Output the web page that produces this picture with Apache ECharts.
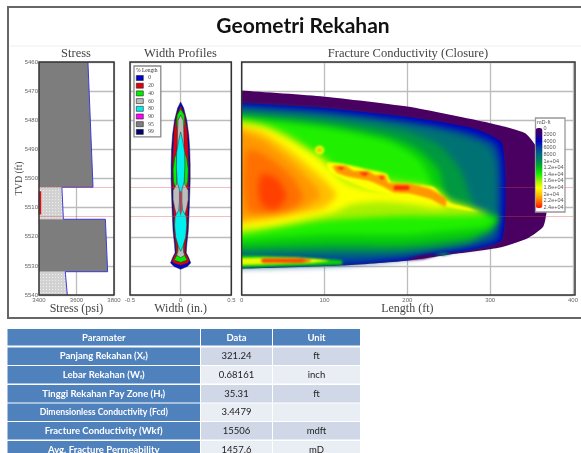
<!DOCTYPE html>
<html>
<head>
<meta charset="utf-8">
<title>Geometri Rekahan</title>
<script src="https://cdn.jsdelivr.net/npm/echarts@6/dist/echarts.min.js"></script>
<style>
  html, body { margin: 0; background: #fff; }
  #chart { width: 581px; height: 453px; filter: blur(0.45px); }
</style>
</head>
<body>
<div id="chart"></div>
<script>
// stress panel, one entry per zone
const zoneTop = [5460, 5503, 5514, 5532]
const zoneBottom = [5503, 5514, 5532, 5540]
const stressTop = [3661, 3522, 3754, 3540]
const stressBottom = [3688, 3530, 3766, 3551]
const zoneIsShale = [true, false, true, false]
const perfDepths = [5503, 5513]
const perfBarDepths = [5504.4, 5512.4]
const perfBarStress = 3405

// width profiles, [depth, half width in inches]
const widthNames = ['0', '20', '40', '60', '80', '90', '95', '99']
const widthColors = ['#0000d0', '#e00010', '#00f000', '#bdbdbd', '#00f0f0', '#ff00ff', '#808080', '#000070']
const width0 = [[5473.7, 0], [5475.8, .03], [5479.9, .06], [5485, .08], [5490.2, .09], [5495.3, .094], [5500.5, .094], [5507.3, .088], [5512.8, .082], [5518, .075], [5522.8, .06], [5525.5, .055], [5527.2, .08], [5529, .1], [5530.2, .065], [5531.2, 0]]
const width20 = [[5475.1, 0], [5478.2, .04], [5483.3, .065], [5490.2, .075], [5495.3, .08], [5500.5, .08], [5507.3, .075], [5512.8, .07], [5518, .065], [5522.8, .05], [5525.5, .045], [5527, .07], [5528.3, .085], [5529, .07], [5529.8, 0]]
const width40 = [[5476.1, 0], [5478.2, .035], [5481, .04], [5484, .03], [5490, .03], [5493, .06], [5497, .075], [5501, .07], [5504, .045], [5510, .03], [5524.5, .03], [5526.5, .04], [5528, .065], [5528.8, 0]]
const width60 = [[5478.2, 0], [5480, .025], [5483.3, .03], [5490.2, .035], [5502, .04], [5504.1, .075], [5507.3, .075], [5510, .06], [5513.5, .035], [5518, .03], [5524.5, .025], [5525.5, .03], [5526.3, .04], [5527.2, 0]]
const width80 = [[5484, 0], [5487, .02], [5491, .04], [5496, .042], [5501, .035], [5504, .012], [5508, .012], [5511, .02], [5513, .055], [5516, .06], [5520, .05], [5523, .025], [5525, 0]]
const width90 = []
const width95 = []
const width99 = []
const widthProfiles = [width0, width20, width40, width60, width80, width90, width95, width99]
// thin red strip in the middle of the pay zone
const widthCore = [[5504, 0], [5505, .012], [5511, .012], [5513, 0]]

// conductivity contours, [length ft, depth ft], painted outside to inside
// the points left of zero only keep the curve smoothing away from the plot edge
const outerEdge = [[-80, 5468], [0, 5469.8], [100, 5471.9], [200, 5475.3], [300, 5481], [342, 5484.4], [358, 5490.2], [367, 5498.8], [369, 5507.3], [368, 5511.8], [364, 5516.6], [346, 5520.4], [310, 5523.8], [250, 5526.2], [200, 5528.2], [121, 5529.9], [0, 5531], [-80, 5531.6]]
const blueEdge = [[-80, 5472.9], [0, 5474.1], [100, 5475.8], [200, 5478.9], [277, 5482.6], [313, 5487.4], [318, 5497], [318, 5513.2], [313, 5521.4], [277, 5524.5], [234, 5526.2], [202, 5527.9], [121, 5529.6], [0, 5530.7], [-80, 5531.2]]
const navyEdge = [[-60, 5473.5], [-12, 5474.6], [100, 5476.8], [199, 5480.2], [268, 5483.7], [306, 5487.8], [313, 5493.6], [314, 5507.3], [313, 5512.8], [309, 5521.1], [274, 5523.8], [238, 5525.2], [199, 5527.4], [121, 5529.5], [-12, 5530.6], [-60, 5531]]
const tealEdge = [[-60, 5474.6], [-12, 5475.7], [100, 5477.8], [199, 5481.3], [262, 5485], [298, 5489.2], [307, 5495.3], [308, 5512.8], [304, 5518.3], [274, 5523], [199, 5525.8], [121, 5526.3], [-12, 5526.8], [-60, 5527]]
const seaEdge = [[-60, 5476], [-12, 5477.1], [100, 5479.6], [190, 5483.3], [238, 5488.5], [264, 5497], [274, 5504.6], [283, 5510.1], [306, 5512.8], [300, 5516.3], [274, 5522], [199, 5524.6], [121, 5525], [-12, 5525.3], [-60, 5525.5]]
const greenEdge = [[-60, 5477], [-12, 5478.1], [100, 5481.3], [178, 5485.7], [214, 5490.2], [238, 5497], [244, 5503.9], [252, 5508.7], [274, 5511.5], [310, 5512.8], [310, 5514.9], [298, 5518.3], [274, 5520.4], [199, 5522.8], [98, 5522.8], [-12, 5523.8], [-60, 5524.2]]
const limeEdge = [[-60, 5477.7], [-12, 5478.8], [100, 5482.6], [178, 5487.4], [214, 5493.6], [228, 5500.5], [228, 5504.6], [244, 5509], [274, 5511.8], [304, 5513.5], [298, 5516.3], [238, 5518.3], [199, 5519.3], [98, 5519.3], [-12, 5521.4], [-60, 5522.3]]
const paleEdge = [[-60, 5478], [-12, 5479.5], [24, 5481.3], [52, 5484.4], [81, 5489.5], [100, 5492.9], [115, 5496.4], [130, 5497.7], [160, 5498.4], [180, 5500.5], [214, 5501.8], [238, 5503.9], [252, 5507.3], [274, 5509.4], [298, 5512.1], [238, 5512.9], [199, 5512.8], [98, 5514.5], [-12, 5519.7], [-60, 5521.5]]
const yellowEdge = [[-60, 5479], [-12, 5480.7], [28, 5482.6], [58, 5486.8], [88, 5491.9], [106, 5496.4], [124, 5501.2], [154, 5503.9], [202, 5504.6], [229, 5506], [247, 5509], [238, 5510.1], [202, 5508.7], [166, 5508], [132, 5509], [112, 5511.5], [94, 5512.8], [38, 5516.3], [-12, 5517.6], [-60, 5519]]
const amberEdge = [[-60, 5479.5], [-12, 5481.5], [24, 5484], [52, 5489], [78, 5495], [100, 5500.5], [114, 5505.6], [100, 5510], [70, 5512.2], [38, 5514], [-12, 5516], [-60, 5517.5]]
const orangeEdge = [[-60, 5481], [-12, 5483], [24, 5486.5], [46, 5491], [70, 5497], [95, 5505.6], [75, 5510.2], [40, 5512.2], [-12, 5514.2], [-60, 5515.5]]
const deepEdge = [[8, 5490], [36, 5493.5], [62, 5500], [74, 5506.6], [58, 5511], [32, 5512.3], [8, 5511], [2, 5500]]
const coreEdge = [[24, 5498.5], [42, 5500], [54, 5506], [42, 5510.5], [26, 5509.5], [20, 5504.6]]
const streakYellow = [[103, 5494.6], [124, 5495], [154, 5497], [175, 5498.4], [180, 5501.2], [204, 5501.8], [232, 5502.9], [240, 5505.3], [252, 5508.4], [274, 5510.1], [286, 5511.5], [274, 5511.1], [247, 5509.7], [226, 5507.3], [190, 5506], [154, 5503.9], [124, 5500.5], [106, 5497.7]]
const streakOrange = [[110, 5495.7], [126, 5495.7], [135, 5497.4], [153, 5497.4], [161, 5498.8], [173, 5498.8], [177, 5501.5], [202, 5501.8], [228, 5503.6], [247, 5507], [246, 5509.5], [228, 5507], [204, 5505.2], [184, 5504.8], [172, 5503], [154, 5500.8], [130, 5499.5], [115, 5498]]
const streakRed1 = [[115, 5496], [124, 5496.2], [120, 5497.1]]
const streakRed2 = [[142, 5497.9], [153, 5498.1], [149, 5499.1]]
const streakRed3 = [[166, 5499.1], [172, 5499.6], [169, 5500.5]]
const streakRed4 = [[184, 5502.5], [202, 5502.5], [202, 5503.9], [184, 5503.9]]
const spotYellow = [[88, 5490.2], [91, 5488.8], [97, 5488.8], [100, 5490.2], [97, 5491.7], [91, 5491.7]]
const spotOrange = [[91, 5490.2], [94, 5489.5], [97, 5490.2], [94, 5490.9]]
const lensGreen = [[-60, 5526.5], [24, 5526.5], [70, 5527.1], [121, 5528.1], [121, 5529.5], [70, 5530], [-60, 5530.6]]
const lensYellow = [[-60, 5527.9], [24, 5527.2], [70, 5527.2], [106, 5528.2], [82, 5529], [24, 5529.5], [-60, 5529.8]]
const lensRed = [[26, 5527.5], [70, 5527.5], [84, 5528.2], [70, 5528.9], [26, 5528.9], [23, 5528.2]]
const patchPurple = [[198, 5527.9], [214, 5526.5], [229, 5525.9], [234, 5526.5], [220, 5527.6]]
const patchTeal = [[234, 5525.9], [244, 5525.5], [252, 5525.9], [244, 5526.4]]

const baseShapes = [outerEdge, blueEdge]
const baseLevels = [0, 4000]
const softShapes = [navyEdge, tealEdge, seaEdge, greenEdge, limeEdge, paleEdge, yellowEdge, amberEdge, orangeEdge, deepEdge, coreEdge]
const softLevels = [6500, 8500, 10500, 12500, 14000, 16000, 18000, 20000, 21000, 22000, 23000]
const detailShapes = [streakYellow, streakOrange, streakRed1, streakRed2, streakRed3, streakRed4, spotYellow, spotOrange, lensGreen, lensYellow, lensRed, patchPurple, patchTeal]
const detailLevels = [18000, 21000, 23500, 23500, 23500, 23500, 17500, 20500, 12500, 17500, 23000, 0, 9000]

const scaleColors = ['#4a0060', '#30007a', '#0000c0', '#00409a', '#006a80', '#008a50', '#00c010', '#20f000', '#a8f000', '#ffff00', '#ffc000', '#ff7000', '#ff1000']
const scaleLabels = ['0', '2000', '4000', '6000', '8000', '1e+04', '1.2e+04', '1.4e+04', '1.6e+04', '1.8e+04', '2e+04', '2.2e+04', '2.4e+04']

// table under the plots
const tableHeaders = ['Paramater', 'Data', 'Unit']
const paramNames = ['{b|Panjang Rekahan (X}{s|f}{b|)}', '{b|Lebar Rekahan (W}{s|f}{b|)}', '{b|Tinggi Rekahan Pay Zone (H}{s|f}{b|)}', '{c|Dimensionless Conductivity (Fcd)}', '{b|Fracture Conductivity (Wkf)}', '{b|Avg. Fracture Permeability}']
const paramData = ['321.24', '0.68161', '35.31', '3.4479', '15506', '1457.6']
const paramUnits = ['ft', 'inch', 'ft', '', 'mdft', 'mD']

const serif = '"Liberation Serif", serif'
const sans = '"Liberation Sans", sans-serif'
const tableFont = 'Lato, sans-serif'

const grids = [
  { left: 39, top: 62, width: 75, height: 233 },
  { left: 130, top: 62, width: 101.3, height: 233 },
  { left: 241.7, top: 62, width: 333.3, height: 233 }
]

// fine dots of the sand zones
const sandPattern = document.createElement('canvas')
sandPattern.width = 3
sandPattern.height = 3
const sandCtx = sandPattern.getContext('2d')
sandCtx.fillStyle = '#d2d2d2'
sandCtx.fillRect(0, 0, 3, 3)
sandCtx.fillStyle = '#ececec'
sandCtx.fillRect(1, 1, 1, 1)

const axisLabel = { fontSize: 6, color: '#666', fontFamily: sans, margin: 2, formatter: v => String(v) }
const splitLine = { show: true, lineStyle: { color: '#bcbcbc', width: 1.3 } }

const xAxisOf = (gridIndex, min, max, interval, name) => ({
  type: 'value', gridIndex, min, max, interval, name,
  nameLocation: 'middle', nameGap: 8, nameMoveOverlap: false,
  nameTextStyle: { fontFamily: serif, fontSize: 12, color: '#444' },
  axisLine: { show: false }, axisTick: { show: false },
  axisLabel, splitLine
})
const yAxisOf = (gridIndex, extra) => ({
  type: 'value', gridIndex, min: 5460, max: 5540, interval: 10, inverse: true,
  axisLine: { show: false }, axisTick: { show: false },
  axisLabel: { show: false }, splitLine, ...extra
})

const pinkLines = (gridIndex, z, zlevel) => ({
  type: 'line', xAxisIndex: gridIndex, yAxisIndex: gridIndex, data: [], z, zlevel,
  markLine: {
    silent: true, symbol: 'none', label: { show: false },
    lineStyle: { color: 'rgba(225,70,70,0.35)', width: 1, type: 'solid' },
    data: perfDepths.map(d => ({ yAxis: d }))
  }
})

const widthPoints = profile => profile.map(p => [p[1], p[0]])
  .concat(profile.slice().reverse().map(p => [-p[1], p[0]]))

const series = []

series.push(pinkLines(0, 1, 0))
series.push({
  type: 'custom', xAxisIndex: 0, yAxisIndex: 0, clip: true,
  data: zoneTop.map((d, i) => [i]),
  renderItem: (params, api) => {
    const i = api.value(0)
    const pts = [[3400, zoneTop[i]], [stressTop[i], zoneTop[i]], [stressBottom[i], zoneBottom[i]], [3400, zoneBottom[i]]]
    return {
      type: 'polygon',
      shape: { points: pts.map(p => api.coord(p)) },
      style: { fill: zoneIsShale[i] ? '#7d7d7d' : { image: sandPattern, repeat: 'repeat' } }
    }
  }
})
series.push({
  type: 'line', xAxisIndex: 0, yAxisIndex: 0, showSymbol: false, z: 3,
  lineStyle: { color: '#3c3cd8', width: 1 },
  data: zoneTop.flatMap((d, i) => [[stressTop[i], zoneTop[i]], [stressBottom[i], zoneBottom[i]]])
})
series.push({
  type: 'line', xAxisIndex: 0, yAxisIndex: 0, showSymbol: false, z: 3,
  lineStyle: { color: '#e01010', width: 2.5 },
  data: perfBarDepths.map(d => [perfBarStress, d])
})

series.push(pinkLines(1, 1, 0))
widthProfiles.forEach((profile, k) => {
  series.push({
    type: 'custom', name: widthNames[k], xAxisIndex: 1, yAxisIndex: 1,
    itemStyle: { color: widthColors[k] },
    data: profile.length ? [[0, 0]] : [],
    renderItem: (params, api) => ({
      type: 'polygon',
      shape: { points: widthPoints(profile).map(p => api.coord(p)) },
      style: { fill: widthColors[k], stroke: '#2a2a2a', lineWidth: 0.5 }
    })
  })
})
series.push({
  type: 'custom', xAxisIndex: 1, yAxisIndex: 1,
  data: [[0, 0]],
  renderItem: (params, api) => ({
    type: 'polygon',
    shape: { points: widthPoints(widthCore).map(p => api.coord(p)) },
    style: { fill: '#b04050' }
  })
})

// conductivity goes on three canvas layers, so the middle one can be softened
const contourSeries = (shapes, levels, zlevel, clip, smooth) => ({
  type: 'custom', xAxisIndex: 2, yAxisIndex: 2, clip, zlevel,
  data: levels.map((v, i) => [v, i]),
  renderItem: (params, api) => ({
    type: 'polygon',
    shape: { points: shapes[api.value(1)].map(p => api.coord(p)), smooth },
    style: { fill: api.visual('color') }
  })
})
const contourIndex = series.length
series.push(contourSeries(baseShapes, baseLevels, 0, true, 0.2))
series.push(contourSeries(softShapes, softLevels, 1, false, 0.25))
series.push(contourSeries(detailShapes, detailLevels, 2, false, 0.15))
series.push(pinkLines(2, 3, 3))

const graphic = [
  { type: 'rect', z: -1, shape: { x: 8, y: 7, width: 590, height: 311 }, style: { fill: '#fff', stroke: '#666', lineWidth: 2 } },
  { type: 'line', z: -1, shape: { x1: 10, y1: 46, x2: 581, y2: 46 }, style: { stroke: '#eeeeee', lineWidth: 1 } }
]
grids.forEach(g => {
  graphic.push({ type: 'rect', zlevel: 3, z: 3, shape: { x: g.left, y: g.top, width: g.width, height: g.height }, style: { fill: 'none', stroke: '#333', lineWidth: 1.5 } })
})
// % Length caption goes on the native legend box
graphic.push({ type: 'text', z: 6, x: 136, y: 68, style: { text: '% Length', fontFamily: serif, fontSize: 5.5, fill: '#333' } })
// colour scale box and its tick labels
graphic.push({ type: 'rect', zlevel: 3, z: 3, shape: { x: 535.5, y: 118, width: 29.5, height: 94 }, style: { fill: '#fff', stroke: '#999', lineWidth: 1.3 } })
graphic.push({ type: 'text', zlevel: 3, z: 6, x: 537, y: 119.5, style: { text: 'mD-ft', fontFamily: sans, fontSize: 5.5, fill: '#555' } })
scaleLabels.forEach((t, i) => {
  graphic.push({ type: 'text', zlevel: 3, z: 6, x: 543.5, y: 128 + i * 6.6, style: { text: t, fontFamily: sans, fontSize: 5.5, fill: '#555', verticalAlign: 'middle' } })
})

// table cells
const colX = [7.5, 201, 273]
const colW = [192.5, 71, 87]
const rowY = [347.5, 366, 385, 403.5, 422, 441]
const rowH = 17.5
const richName = {
  b: { fontFamily: tableFont, fontWeight: 'bold', fontSize: 9.5, fill: '#fff', color: '#fff' },
  c: { fontFamily: tableFont, fontWeight: 'bold', fontSize: 8.7, fill: '#fff', color: '#fff' },
  s: { fontFamily: tableFont, fontWeight: 'bold', fontSize: 6, fill: '#fff', color: '#fff', verticalAlign: 'bottom', padding: [3, 0, 0, 0] }
}
tableHeaders.forEach((t, c) => {
  graphic.push({ type: 'rect', shape: { x: colX[c], y: 329, width: colW[c], height: 16.5 }, style: { fill: '#4f81bd' } })
  graphic.push({ type: 'text', x: colX[c] + colW[c] / 2, y: 337.5, style: { text: t, fontFamily: tableFont, fontWeight: 'bold', fontSize: 9.5, fill: '#fff', align: 'center', verticalAlign: 'middle' } })
})
paramNames.forEach((t, r) => {
  const fills = ['#4f81bd', r % 2 ? '#e9edf4' : '#d0d8e8', r % 2 ? '#e9edf4' : '#d0d8e8']
  const texts = [t, paramData[r], paramUnits[r]]
  texts.forEach((cell, c) => {
    graphic.push({ type: 'rect', shape: { x: colX[c], y: rowY[r], width: colW[c], height: rowH }, style: { fill: fills[c] } })
    graphic.push({
      type: 'text', x: colX[c] + colW[c] / 2, y: rowY[r] + rowH / 2,
      style: c === 0
        ? { text: cell, rich: richName, align: 'center', verticalAlign: 'middle' }
        : { text: cell, fontFamily: tableFont, fontSize: 9.5, fill: '#222', align: 'center', verticalAlign: 'middle' }
    })
  })
})

const subTitle = (text, left) => ({ text, left, top: 47, padding: 0, textAlign: 'center', textStyle: { fontFamily: serif, fontWeight: 'normal', fontSize: 12.5, color: '#444' } })

const chart = echarts.init(document.getElementById('chart'), null, { renderer: 'canvas' })
chart.setOption({
  animation: false,
  backgroundColor: '#fff',
  title: [
    { text: 'Geometri Rekahan', left: 303, top: 16, padding: 0, textAlign: 'center', textStyle: { fontFamily: 'Lato, sans-serif', fontWeight: 'bold', fontSize: 21, color: '#111' } },
    subTitle('Stress', 76),
    subTitle('Width Profiles', 180.5),
    subTitle('Fracture Conductivity (Closure)', 408)
  ],
  grid: grids,
  xAxis: [
    xAxisOf(0, 3400, 3800, 200, 'Stress (psi)'),
    xAxisOf(1, -0.5, 0.5, 0.5, 'Width (in.)'),
    xAxisOf(2, 0, 400, 100, 'Length (ft)')
  ],
  yAxis: [
    yAxisOf(0, {
      name: 'TVD (ft)', nameLocation: 'middle', nameGap: 15, nameMoveOverlap: false,
      nameTextStyle: { fontFamily: serif, fontSize: 9.5, color: '#444' },
      axisLabel: { ...axisLabel, show: true, margin: 1, padding: [0, 0, 3, 0] }
    }),
    yAxisOf(1),
    yAxisOf(2)
  ],
  legend: {
    data: widthNames, orient: 'vertical', left: 134, top: 66,
    selectedMode: false, icon: 'rect',
    itemWidth: 7, itemHeight: 5, itemGap: 1.7,
    padding: [9, 7, 2, 2],
    backgroundColor: '#fff', borderColor: '#888', borderWidth: 1.3,
    itemStyle: { borderColor: '#222', borderWidth: 0.6 },
    textStyle: { fontFamily: serif, fontSize: 5.5, color: '#444' }
  },
  visualMap: {
    type: 'continuous', seriesIndex: [contourIndex, contourIndex + 1, contourIndex + 2], dimension: 0,
    min: 0, max: 24000, inverse: true, calculable: false, hoverLink: false, zlevel: 3,
    orient: 'vertical', left: 535.5, top: 128, itemWidth: 7, itemHeight: 80, padding: 0,
    inRange: { color: scaleColors }
  },
  graphic,
  series
})

// soften the contour bands into a gradient, then cut the blur back to the plot area
const plotClip = 'inset(62px 6px 158px 241.7px)'
const softLayer = document.querySelector('[data-zr-dom-id="zr_1"]')
const detailLayer = document.querySelector('[data-zr-dom-id="zr_2"]')
if (softLayer) {
  softLayer.style.filter = 'blur(3px)'
  softLayer.style.clipPath = plotClip
}
if (detailLayer) {
  detailLayer.style.filter = 'blur(0.8px)'
  detailLayer.style.clipPath = plotClip
}
</script>
</body>
</html>
